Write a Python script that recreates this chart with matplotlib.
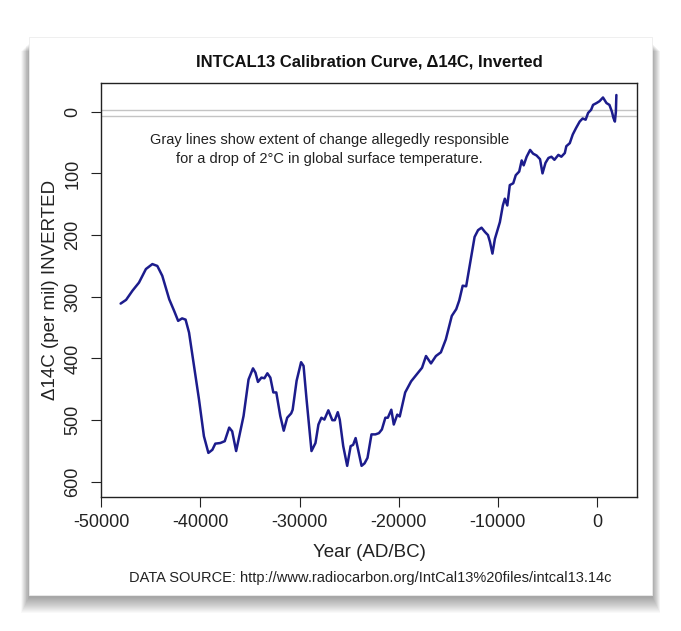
import matplotlib
matplotlib.use('Agg')

import matplotlib.pyplot as plt
from matplotlib.patches import Rectangle

plt.rcParams['font.family'] = ['Liberation Sans', 'DejaVu Sans']

# INTCAL13 delta 14C (year AD/BC, per mil)
years = [
    -48050, -47500, -46850, -46200, -45500, -44850, -44350, -43850, -43150, -42650,
    -42250, -41850, -41500, -41150, -40650, -40150, -39650, -39200, -38800, -38500,
    -38000, -37550, -37100, -36800, -36400, -36150, -35650, -35150, -34700, -34450,
    -34200, -33850, -33550, -33250, -32950, -32650, -32350, -31950, -31600, -31250,
    -30850, -30700, -30300, -29850, -29600, -29300, -28800, -28400, -28100, -27800,
    -27500, -27100, -26700, -26450, -26150, -25950, -25600, -25200, -24850, -24600,
    -24350, -24100, -23750, -23450, -23150, -22750, -22350, -22000, -21700, -21350,
    -21100, -20750, -20500, -20150, -19900, -19350, -18750, -18050, -17650, -17250,
    -16750, -16250, -15750, -15250, -14650, -14200, -13900, -13550, -13200, -12850,
    -12350, -12000, -11650, -11300, -11000, -10800, -10550, -10300, -9800, -9500,
    -9300, -9050, -8800, -8450, -8200, -7850, -7600, -7400, -7100, -6750,
    -6450, -6100, -5750, -5500, -5200, -4900, -4600, -4300, -3900, -3600,
    -3250, -3100, -2750, -2450, -2100, -1750, -1450, -1150, -900, -600,
    -400, -50, 250, 600, 950, 1250, 1500, 1650, 1800, 1900, 1950,
]
d14c = [
    311, 305, 290, 277, 255, 247, 250, 266, 304, 323,
    339, 335, 337, 358, 412, 466, 526, 553, 548, 538,
    537, 534, 512, 518, 550, 531, 493, 434, 416, 423,
    438, 431, 432, 424, 431, 455, 455, 493, 517, 496,
    489, 483, 436, 406, 412, 466, 550, 537, 507, 496,
    499, 484, 500, 500, 487, 499, 542, 574, 542, 540,
    529, 548, 574, 570, 561, 523, 523, 521, 515, 496,
    496, 483, 507, 491, 494, 455, 437, 423, 415, 396,
    408, 396, 390, 369, 331, 320, 306, 282, 283, 250,
    203, 192, 188, 195, 200, 211, 230, 206, 179, 152,
    141, 152, 119, 116, 103, 97, 79, 87, 73, 62,
    68, 71, 77, 100, 83, 75, 73, 78, 70, 73,
    67, 56, 51, 37, 26, 16, 11, 13, 2, -3,
    -11, -14, -17, -23, -14, -11, 0, 10, 16, 0, -27,
]

gray_levels = [-3, 7]
x_ticks = [-50000, -40000, -30000, -20000, -10000, 0]
y_ticks = [0, 100, 200, 300, 400, 500, 600]

fig = plt.figure(figsize=(6.81, 6.31), dpi=100)
fig.patch.set_facecolor('white')

# card with soft drop shadow (stack of faint rectangles, mostly below the card)
W, H = 681, 631
left, right, top, bottom = 29, 652, 37, 595
for i in range(16, 0, -1):
    grow = i * 0.5
    sh_top = top + 6 + i * 0.5
    sh_bot = bottom + 2 + i * 1.0
    fig.patches.append(Rectangle(((left - grow) / W, 1 - sh_bot / H),
                                 (right - left + 2 * grow) / W,
                                 (sh_bot - sh_top) / H,
                                 transform=fig.transFigure, facecolor='black',
                                 edgecolor='none', alpha=0.022, zorder=0))
fig.patches.append(Rectangle((left / W, 1 - bottom / H), (right - left) / W, (bottom - top) / H,
                             transform=fig.transFigure, facecolor='white',
                             edgecolor='#ececec', lw=0.6, zorder=1))

ax = fig.add_axes([101.3 / W, 134.3 / H, 535.4 / W, 413.4 / H])
ax.set_zorder(2)
ax.patch.set_alpha(0)

for g in gray_levels:
    ax.axhline(g, color='#c4c4c4', lw=1.0, zorder=1)
ax.plot(years, d14c, color='#1c1c8c', lw=1.8, zorder=2,
        solid_joinstyle='round', solid_capstyle='round')

ax.set_xlim(-50000, 4000)
ax.set_ylim(624, -46)
ax.set_xticks(x_ticks)
ax.set_yticks(y_ticks)
ax.set_xticklabels([str(t) for t in x_ticks])
ax.tick_params(axis='both', direction='out', length=7.5, width=0.8, labelsize=13, colors='#222222')
ax.tick_params(axis='x', pad=5)
ax.tick_params(axis='y', pad=7, labelrotation=90)
for lab in ax.get_yticklabels():
    lab.set_va('center')
for sp in ax.spines.values():
    sp.set_linewidth(1.0)
    sp.set_color('#222222')

ax.set_xlabel('Year (AD/BC)', fontsize=13.5, labelpad=9, color='#222222')
ax.set_ylabel('\u039414C (per mil) INVERTED', fontsize=13.5, labelpad=4, color='#222222')

ax.text(-27000, 62, 'Gray lines show extent of change allegedly responsible\n'
        'for a drop of 2\u00b0C in global surface temperature.',
        ha='center', va='center', fontsize=10.5, linespacing=1.45, color='#222222')

fig.text(369 / W, 1 - 62 / H, 'INTCAL13 Calibration Curve, \u039414C, Inverted',
         ha='center', va='center', fontsize=12, fontweight='bold', color='#111111')
fig.text(370 / W, 1 - 578 / H,
         'DATA SOURCE: http://www.radiocarbon.org/IntCal13%20files/intcal13.14c',
         ha='center', va='center', fontsize=10.5, color='#222222')

fig.savefig('out.png', dpi=100, facecolor='white')
